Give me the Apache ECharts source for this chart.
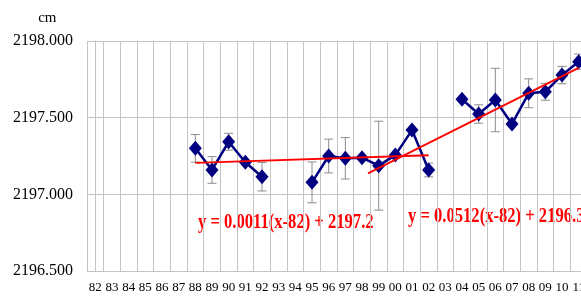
<!DOCTYPE html>
<html>
<head>
<meta charset="utf-8">
<script src="https://cdn.jsdelivr.net/npm/echarts@6/dist/echarts.min.js"></script>
<style>
  html, body { margin: 0; padding: 0; background: #fff; }
  #chart { width: 581px; height: 296px; }
</style>
</head>
<body>
<div id="chart"></div>
<script>
// 年份（横轴）
var years = ['82','83','84','85','86','87','88','89','90','91','92','93','94','95','96','97','98','99',
             '00','01','02','03','04','05','06','07','08','09','10','11'];
// 观测值 cm
var heights = [null, null, null, null, null, null,
  2197.300, 2197.159, 2197.343, 2197.209, 2197.115, null, null,
  2197.078, 2197.250, 2197.235, 2197.239, 2197.187, 2197.256, 2197.419, 2197.159, null,
  2197.620, 2197.524, 2197.615, 2197.459, 2197.659, 2197.669, 2197.778, 2197.865];
// 误差（±）
var errors = [null, null, null, null, null, null,
  0.090, 0.087, 0.055, null, 0.093, null, null,
  0.133, 0.110, 0.135, null, 0.290, null, null, 0.045, null,
  null, 0.060, 0.207, null, 0.094, 0.055, 0.057, 0.050];
// 趋势线端点 [年份序号, 值]
var trend1 = [[6, 2197.205], [20, 2197.255]];
var trend2 = [[16.36, 2197.137], [29.0, 2197.825]];
var eq1 = 'y = 0.0011(x-82) + 2197.2';
var eq2 = 'y = 0.0512(x-82) + 2196.3';

var errData = [];
heights.forEach(function(v, i) {
  if (v != null && errors[i] != null) errData.push([i, v - errors[i], v + errors[i]]);
});

var myChart = echarts.init(document.getElementById('chart'));
var serif = '"Liberation Serif", "Times New Roman", serif';
var option = {
  animation: false,
  grid: { left: 87, top: 41, bottom: 25, right: -6, outerBoundsMode: 'none' },
  xAxis: [
    {
      type: 'category',
      data: years,
      boundaryGap: true,
      axisLine: { show: true, lineStyle: { color: '#c4c4c4' } },
      axisTick: { show: false },
      splitLine: { show: true, interval: 0, lineStyle: { color: '#c4c4c4', width: 1 } },
      axisLabel: { interval: 0, margin: 10, color: '#000', fontFamily: serif, fontSize: 13 }
    },
    {
      type: 'value', min: -0.5, max: 29.5, show: false
    }
  ],
  yAxis: {
    type: 'value',
    min: 2196.5, max: 2198, interval: 0.5,
    name: 'cm',
    nameGap: 15,
    nameTextStyle: { color: '#000', fontFamily: serif, fontSize: 15, padding: [0, 96, 0, 0] },
    axisLine: { show: true, lineStyle: { color: '#c4c4c4' } },
    axisTick: { show: false },
    splitLine: { lineStyle: { color: '#c4c4c4' } },
    axisLabel: {
      margin: 14, color: '#000', fontFamily: serif, fontSize: 16,
      formatter: function(v) { return v.toFixed(3); }
    }
  },
  series: [
    {
      type: 'custom',
      name: 'error',
      xAxisIndex: 0,
      data: errData,
      z: 1,
      renderItem: function(params, api) {
        var lo = api.coord([api.value(0), api.value(1)]);
        var hi = api.coord([api.value(0), api.value(2)]);
        var w = 4.5;
        var st = { stroke: '#8c8c8c', lineWidth: 1 };
        return {
          type: 'group',
          children: [
            { type: 'line', shape: { x1: lo[0], y1: lo[1], x2: hi[0], y2: hi[1] }, style: st },
            { type: 'line', shape: { x1: lo[0] - w, y1: lo[1], x2: lo[0] + w, y2: lo[1] }, style: st },
            { type: 'line', shape: { x1: hi[0] - w, y1: hi[1], x2: hi[0] + w, y2: hi[1] }, style: st }
          ]
        };
      }
    },
    {
      type: 'line',
      name: 'height',
      data: heights,
      connectNulls: false,
      symbol: 'diamond',
      symbolSize: [13, 15],
      itemStyle: { color: '#000080' },
      lineStyle: { color: '#000080', width: 2.5 },
      z: 3
    },
    {
      type: 'line',
      xAxisIndex: 1,
      data: trend1,
      symbol: 'none',
      lineStyle: { color: '#ff0000', width: 1.8 },
      z: 4
    },
    {
      type: 'line',
      xAxisIndex: 1,
      data: trend2,
      symbol: 'none',
      lineStyle: { color: '#ff0000', width: 1.8 },
      z: 4
    }
  ],
  graphic: [
    {
      type: 'text', x: 198, y: 223, scaleX: 0.79,
      style: { text: eq1, fill: '#ff0000', font: 'bold 21px ' + serif, textAlign: 'left', textVerticalAlign: 'middle' }
    },
    {
      type: 'text', x: 408, y: 217, scaleX: 0.79,
      style: { text: eq2, fill: '#ff0000', font: 'bold 21px ' + serif, textAlign: 'left', textVerticalAlign: 'middle' }
    }
  ]
};
myChart.setOption(option);
</script>
</body>
</html>
